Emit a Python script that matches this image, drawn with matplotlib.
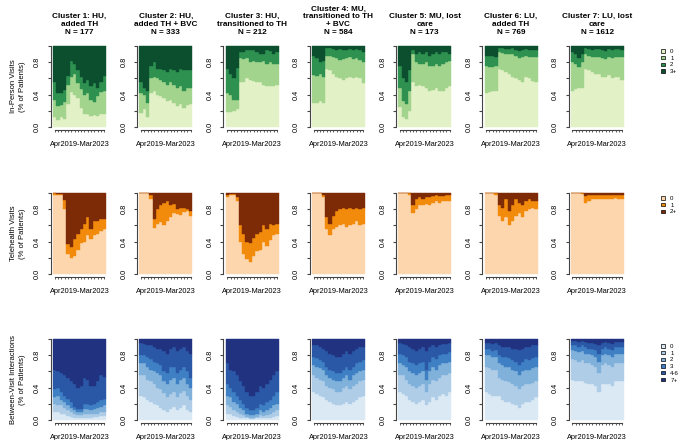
import numpy as np
import matplotlib
matplotlib.use("Agg")
from matplotlib import pyplot as plt
from matplotlib.patches import Patch

plt.rcParams['font.family'] = ['Liberation Sans', 'DejaVu Sans']

##############################################################################
# Data : cumulative share of patients (top of each category, bottom -> top)
# 16 quarters, Apr2019 - Mar2023
##############################################################################
period_label = "Apr2019-Mar2023"

titles = ["Cluster 1: HU,\nadded TH\nN = 177",
          "Cluster 2: HU,\nadded TH + BVC\nN = 333",
          "Cluster 3: HU,\ntransitioned to TH\nN = 212",
          "Cluster 4: MU,\ntransitioned to TH\n+ BVC\nN = 584",
          "Cluster 5: MU, lost\ncare\nN = 173",
          "Cluster 6: LU,\nadded TH\nN = 769",
          "Cluster 7: LU, lost\ncare\nN = 1612"]

row_labels = ["In-Person Visits\n(% of Patients)",
              "Telehealth Visits\n(% of Patients)",
              "Between-Visit Interactions\n(% of Patients)"]

ip_cats = ["0", "1", "2", "3+"]
th_cats = ["0", "1", "2+"]
bv_cats = ["0", "1", "2", "3", "4-6", "7+"]

ip_colors = ["#e3f1c6", "#a2d48e", "#2e9150", "#0b4f2f"]
th_colors = ["#fdd6ae", "#f28b0c", "#7d2a06"]
bv_colors = ["#dbe9f5", "#b0cde8", "#80b1da", "#3f7fc3", "#2b58a6", "#213380"]

# In-person visits
ip1 = [[0.12, 0.09, 0.12, 0.10, 0.28, 0.43, 0.40, 0.36, 0.24, 0.16, 0.16, 0.14, 0.15, 0.14, 0.16, 0.16],
       [0.33, 0.26, 0.27, 0.31, 0.52, 0.62, 0.66, 0.54, 0.47, 0.40, 0.42, 0.33, 0.31, 0.38, 0.43, 0.45],
       [0.56, 0.42, 0.42, 0.46, 0.63, 0.82, 0.78, 0.70, 0.62, 0.54, 0.58, 0.50, 0.54, 0.48, 0.56, 0.63]]
ip2 = [[0.17, 0.22, 0.12, 0.42, 0.44, 0.40, 0.38, 0.36, 0.32, 0.33, 0.30, 0.26, 0.28, 0.24, 0.27, 0.28],
       [0.42, 0.40, 0.30, 0.60, 0.62, 0.60, 0.58, 0.55, 0.52, 0.55, 0.52, 0.48, 0.50, 0.45, 0.48, 0.48],
       [0.56, 0.48, 0.44, 0.75, 0.80, 0.72, 0.72, 0.70, 0.68, 0.72, 0.70, 0.68, 0.72, 0.70, 0.70, 0.70]]
ip3 = [[0.18, 0.18, 0.20, 0.22, 0.55, 0.55, 0.60, 0.58, 0.57, 0.55, 0.55, 0.52, 0.50, 0.50, 0.50, 0.52],
       [0.42, 0.40, 0.33, 0.33, 0.85, 0.84, 0.85, 0.80, 0.82, 0.80, 0.80, 0.82, 0.78, 0.80, 0.78, 0.78],
       [0.72, 0.65, 0.60, 0.73, 0.92, 0.92, 0.95, 0.95, 0.95, 0.92, 0.90, 0.90, 0.95, 0.94, 0.90, 0.92]]
ip4 = [[0.30, 0.30, 0.32, 0.30, 0.72, 0.70, 0.65, 0.62, 0.60, 0.58, 0.60, 0.62, 0.60, 0.62, 0.60, 0.54],
       [0.64, 0.63, 0.66, 0.62, 0.88, 0.88, 0.86, 0.85, 0.83, 0.84, 0.85, 0.86, 0.84, 0.85, 0.83, 0.80],
       [0.88, 0.85, 0.80, 0.82, 0.97, 0.97, 0.96, 0.95, 0.96, 0.95, 0.95, 0.96, 0.95, 0.96, 0.95, 0.92]]
ip5 = [[0.25, 0.12, 0.10, 0.20, 0.55, 0.50, 0.52, 0.50, 0.48, 0.45, 0.46, 0.48, 0.45, 0.45, 0.48, 0.50],
       [0.48, 0.32, 0.28, 0.45, 0.90, 0.80, 0.78, 0.78, 0.80, 0.75, 0.75, 0.78, 0.75, 0.78, 0.80, 0.82],
       [0.75, 0.60, 0.55, 0.70, 0.95, 0.90, 0.92, 0.90, 0.92, 0.88, 0.90, 0.92, 0.90, 0.92, 0.92, 0.90]]
ip6 = [[0.42, 0.43, 0.45, 0.45, 0.72, 0.70, 0.68, 0.65, 0.62, 0.60, 0.58, 0.55, 0.62, 0.60, 0.57, 0.55],
       [0.75, 0.74, 0.74, 0.75, 0.92, 0.91, 0.90, 0.90, 0.90, 0.88, 0.85, 0.86, 0.88, 0.87, 0.86, 0.86],
       [0.88, 0.88, 0.88, 0.87, 0.97, 0.97, 0.96, 0.96, 0.97, 0.95, 0.94, 0.95, 0.96, 0.95, 0.95, 0.95]]
ip7 = [[0.44, 0.47, 0.48, 0.48, 0.72, 0.70, 0.68, 0.65, 0.65, 0.62, 0.62, 0.64, 0.60, 0.62, 0.62, 0.58],
       [0.80, 0.78, 0.74, 0.80, 0.90, 0.88, 0.86, 0.87, 0.86, 0.85, 0.84, 0.87, 0.85, 0.86, 0.86, 0.86],
       [0.92, 0.90, 0.85, 0.90, 0.97, 0.96, 0.95, 0.96, 0.96, 0.95, 0.94, 0.96, 0.95, 0.96, 0.96, 0.95]]

# Telehealth visits
th1 = [[0.97, 0.98, 0.98, 0.80, 0.25, 0.20, 0.22, 0.30, 0.38, 0.40, 0.48, 0.43, 0.48, 0.50, 0.53, 0.56],
       [1.00, 0.99, 0.99, 0.91, 0.37, 0.33, 0.43, 0.50, 0.55, 0.62, 0.70, 0.55, 0.66, 0.65, 0.68, 0.68]]
th2 = [[1.00, 1.00, 1.00, 0.92, 0.57, 0.62, 0.64, 0.60, 0.65, 0.70, 0.75, 0.74, 0.73, 0.76, 0.78, 0.72],
       [1.00, 1.00, 1.00, 0.98, 0.68, 0.80, 0.85, 0.88, 0.90, 0.85, 0.86, 0.80, 0.81, 0.82, 0.80, 0.78]]
th3 = [[0.95, 0.97, 0.97, 0.90, 0.40, 0.25, 0.18, 0.15, 0.22, 0.28, 0.30, 0.40, 0.35, 0.42, 0.48, 0.50],
       [0.97, 0.99, 0.99, 0.95, 0.60, 0.50, 0.40, 0.38, 0.45, 0.50, 0.52, 0.60, 0.55, 0.62, 0.60, 0.62]]
th4 = [[1.00, 1.00, 1.00, 0.95, 0.55, 0.48, 0.55, 0.58, 0.60, 0.62, 0.58, 0.60, 0.62, 0.65, 0.60, 0.62],
       [1.00, 1.00, 1.00, 0.98, 0.70, 0.62, 0.72, 0.78, 0.80, 0.82, 0.80, 0.82, 0.80, 0.82, 0.80, 0.82]]
th5 = [[1.00, 1.00, 1.00, 0.98, 0.75, 0.80, 0.85, 0.85, 0.86, 0.85, 0.88, 0.90, 0.88, 0.90, 0.90, 0.90],
       [1.00, 1.00, 1.00, 1.00, 0.85, 0.92, 0.95, 0.92, 0.95, 0.95, 0.96, 0.97, 0.96, 0.96, 0.97, 0.97]]
th6 = [[1.00, 1.00, 1.00, 0.98, 0.72, 0.65, 0.70, 0.60, 0.65, 0.72, 0.75, 0.70, 0.78, 0.80, 0.82, 0.80],
       [1.00, 1.00, 1.00, 1.00, 0.85, 0.82, 0.92, 0.78, 0.85, 0.92, 0.88, 0.85, 0.90, 0.92, 0.90, 0.90]]
th7 = [[1.00, 1.00, 1.00, 0.99, 0.88, 0.90, 0.92, 0.92, 0.93, 0.92, 0.93, 0.92, 0.93, 0.94, 0.93, 0.93],
       [1.00, 1.00, 1.00, 1.00, 0.96, 0.97, 0.98, 0.97, 0.98, 0.98, 0.98, 0.97, 0.98, 0.98, 0.98, 0.98]]

# Between-visit interactions
bv1 = [[0.10, 0.10, 0.08, 0.07, 0.05, 0.04, 0.03, 0.03, 0.03, 0.03, 0.03, 0.03, 0.04, 0.04, 0.05, 0.05],
       [0.20, 0.19, 0.18, 0.15, 0.12, 0.10, 0.08, 0.06, 0.06, 0.08, 0.08, 0.08, 0.08, 0.08, 0.10, 0.10],
       [0.28, 0.30, 0.25, 0.22, 0.18, 0.15, 0.12, 0.10, 0.10, 0.14, 0.14, 0.12, 0.14, 0.15, 0.16, 0.18],
       [0.38, 0.40, 0.34, 0.30, 0.26, 0.22, 0.16, 0.14, 0.14, 0.20, 0.20, 0.18, 0.20, 0.22, 0.25, 0.26],
       [0.62, 0.60, 0.58, 0.55, 0.52, 0.48, 0.45, 0.40, 0.42, 0.52, 0.50, 0.42, 0.42, 0.48, 0.55, 0.53]]
bv2 = [[0.30, 0.28, 0.25, 0.22, 0.20, 0.18, 0.15, 0.12, 0.10, 0.14, 0.16, 0.12, 0.15, 0.18, 0.12, 0.10],
       [0.55, 0.55, 0.50, 0.48, 0.45, 0.40, 0.38, 0.33, 0.28, 0.32, 0.35, 0.28, 0.33, 0.36, 0.30, 0.25],
       [0.70, 0.70, 0.66, 0.62, 0.60, 0.58, 0.55, 0.48, 0.45, 0.50, 0.52, 0.45, 0.50, 0.52, 0.45, 0.40],
       [0.80, 0.80, 0.78, 0.75, 0.72, 0.70, 0.68, 0.60, 0.58, 0.65, 0.66, 0.58, 0.62, 0.65, 0.60, 0.52],
       [0.95, 0.94, 0.92, 0.92, 0.90, 0.88, 0.88, 0.85, 0.82, 0.88, 0.90, 0.85, 0.88, 0.90, 0.85, 0.82]]
bv3 = [[0.08, 0.07, 0.05, 0.04, 0.03, 0.02, 0.02, 0.01, 0.01, 0.02, 0.02, 0.02, 0.03, 0.03, 0.04, 0.05],
       [0.18, 0.16, 0.12, 0.10, 0.08, 0.06, 0.04, 0.03, 0.03, 0.04, 0.06, 0.05, 0.06, 0.08, 0.10, 0.12],
       [0.30, 0.28, 0.22, 0.20, 0.15, 0.12, 0.08, 0.06, 0.06, 0.08, 0.12, 0.10, 0.12, 0.15, 0.18, 0.20],
       [0.45, 0.40, 0.35, 0.30, 0.25, 0.20, 0.15, 0.12, 0.12, 0.15, 0.20, 0.18, 0.22, 0.25, 0.30, 0.35],
       [0.70, 0.62, 0.60, 0.55, 0.48, 0.42, 0.35, 0.30, 0.30, 0.35, 0.42, 0.40, 0.45, 0.50, 0.55, 0.60]]
bv4 = [[0.35, 0.32, 0.30, 0.28, 0.25, 0.22, 0.20, 0.18, 0.18, 0.20, 0.22, 0.20, 0.22, 0.25, 0.28, 0.30],
       [0.55, 0.52, 0.50, 0.48, 0.42, 0.40, 0.38, 0.35, 0.35, 0.40, 0.42, 0.38, 0.42, 0.45, 0.48, 0.50],
       [0.68, 0.66, 0.64, 0.62, 0.56, 0.52, 0.50, 0.48, 0.48, 0.52, 0.55, 0.50, 0.55, 0.58, 0.60, 0.62],
       [0.78, 0.76, 0.74, 0.72, 0.66, 0.62, 0.60, 0.58, 0.58, 0.62, 0.66, 0.62, 0.66, 0.70, 0.72, 0.74],
       [0.92, 0.92, 0.90, 0.88, 0.85, 0.82, 0.80, 0.78, 0.78, 0.82, 0.85, 0.82, 0.85, 0.88, 0.90, 0.90]]
bv5 = [[0.35, 0.32, 0.30, 0.25, 0.22, 0.20, 0.22, 0.25, 0.18, 0.22, 0.28, 0.25, 0.30, 0.32, 0.30, 0.35],
       [0.55, 0.55, 0.50, 0.45, 0.42, 0.40, 0.42, 0.45, 0.35, 0.45, 0.50, 0.48, 0.52, 0.55, 0.55, 0.58],
       [0.70, 0.68, 0.65, 0.60, 0.58, 0.55, 0.58, 0.60, 0.50, 0.60, 0.65, 0.62, 0.68, 0.70, 0.70, 0.72],
       [0.82, 0.80, 0.78, 0.72, 0.70, 0.68, 0.70, 0.72, 0.62, 0.72, 0.78, 0.75, 0.80, 0.82, 0.82, 0.84],
       [0.95, 0.94, 0.92, 0.90, 0.88, 0.85, 0.88, 0.90, 0.85, 0.90, 0.92, 0.90, 0.92, 0.94, 0.94, 0.95]]
bv6 = [[0.35, 0.32, 0.30, 0.30, 0.30, 0.25, 0.22, 0.22, 0.20, 0.18, 0.15, 0.20, 0.22, 0.22, 0.25, 0.28],
       [0.65, 0.64, 0.62, 0.62, 0.52, 0.50, 0.48, 0.47, 0.45, 0.42, 0.38, 0.42, 0.45, 0.45, 0.46, 0.48],
       [0.80, 0.80, 0.78, 0.78, 0.70, 0.68, 0.66, 0.65, 0.62, 0.60, 0.55, 0.60, 0.62, 0.62, 0.64, 0.65],
       [0.88, 0.88, 0.85, 0.86, 0.80, 0.78, 0.78, 0.76, 0.74, 0.72, 0.68, 0.72, 0.75, 0.74, 0.76, 0.78],
       [0.95, 0.95, 0.94, 0.95, 0.92, 0.90, 0.90, 0.90, 0.88, 0.88, 0.86, 0.88, 0.90, 0.90, 0.92, 0.92]]
bv7 = [[0.50, 0.48, 0.48, 0.48, 0.46, 0.45, 0.45, 0.42, 0.35, 0.45, 0.45, 0.45, 0.42, 0.48, 0.48, 0.48],
       [0.75, 0.74, 0.72, 0.74, 0.70, 0.70, 0.68, 0.66, 0.58, 0.68, 0.70, 0.68, 0.65, 0.70, 0.70, 0.70],
       [0.86, 0.85, 0.84, 0.85, 0.82, 0.82, 0.80, 0.78, 0.72, 0.80, 0.82, 0.80, 0.78, 0.82, 0.82, 0.82],
       [0.92, 0.92, 0.90, 0.92, 0.90, 0.88, 0.88, 0.86, 0.82, 0.88, 0.90, 0.88, 0.86, 0.90, 0.90, 0.90],
       [0.97, 0.97, 0.96, 0.97, 0.96, 0.95, 0.95, 0.94, 0.92, 0.95, 0.96, 0.95, 0.94, 0.96, 0.96, 0.96]]

rows = [([ip1, ip2, ip3, ip4, ip5, ip6, ip7], ip_cats, ip_colors),
        ([th1, th2, th3, th4, th5, th6, th7], th_cats, th_colors),
        ([bv1, bv2, bv3, bv4, bv5, bv6, bv7], bv_cats, bv_colors)]

##############################################################################
# Layout (pixels on a 680x440 canvas)
##############################################################################
W, H = 680, 440
col_left = [53 + i * 86.3 for i in range(7)]   # left edge of the bars
bar_w = 53
row_top = [46, 193, 339]                        # y of share = 1
bar_h = 81
legend_y = [49, 196, 344]

fig = plt.figure(figsize=(W / 100, H / 100), dpi=100)

for r, (panels, cats, cols) in enumerate(rows):
    for c, levels in enumerate(panels):
        nq = len(levels[0])
        # R-style 4% extension
        ax_l = col_left[c] - 0.04 * bar_w
        ax_w = bar_w * 1.08
        ax_t = row_top[r] - 0.04 * bar_h
        ax_h = bar_h * 1.08
        ax = fig.add_axes([ax_l / W, 1 - (ax_t + ax_h) / H, ax_w / W, ax_h / H])

        cum = np.vstack([np.zeros(nq), np.array(levels), np.ones(nq)])
        x = np.arange(nq) + 0.5
        for k in range(len(cats)):
            ax.bar(x, cum[k + 1] - cum[k], bottom=cum[k], width=1.0,
                   color=cols[k], edgecolor=cols[k], linewidth=0.3)

        ax.set_xlim(-0.04 * nq, nq * 1.04)
        ax.set_ylim(-0.04, 1.04)
        for s in ['top', 'right']:
            ax.spines[s].set_visible(False)
        ax.spines['left'].set_bounds(0, 1)
        ax.spines['bottom'].set_bounds(x[0], x[-1])
        for s in ['left', 'bottom']:
            ax.spines[s].set_color('#444444')
            ax.spines[s].set_linewidth(0.8)

        ax.set_yticks([0, 0.2, 0.4, 0.6, 0.8, 1.0])
        ax.set_yticklabels(['0.0', '', '0.4', '', '0.8', ''], rotation=90, va='center')
        ax.set_xticks(x)
        ax.set_xticklabels([])
        ax.tick_params(axis='y', length=2.5, width=0.8, color='#444444', labelsize=5.3, pad=4.5)
        ax.tick_params(axis='x', length=1.5, width=0.6, color='#444444')
        ax.set_xlabel(period_label, fontsize=5.3, labelpad=2.5)

        if r == 0:
            ax.set_title(titles[c], fontsize=5.9, fontweight='bold', linespacing=1.15, pad=6.5)

    # row label
    fig.text(18 / W, 1 - (row_top[r] + bar_h / 2) / H, row_labels[r],
             rotation=90, ha='center', va='center', fontsize=5.5, linespacing=1.25)

    # legend
    handles = [Patch(facecolor=cols[k], edgecolor='black', linewidth=0.5) for k in range(len(cats))]
    fig.legend(handles, cats, loc='upper left', bbox_to_anchor=(661 / W, 1 - legend_y[r] / H),
               frameon=False, fontsize=4.4, handlelength=0.6, handleheight=0.5,
               labelspacing=0.28, handletextpad=0.9, borderpad=0, borderaxespad=0)

plt.savefig('out.png', dpi=100)
